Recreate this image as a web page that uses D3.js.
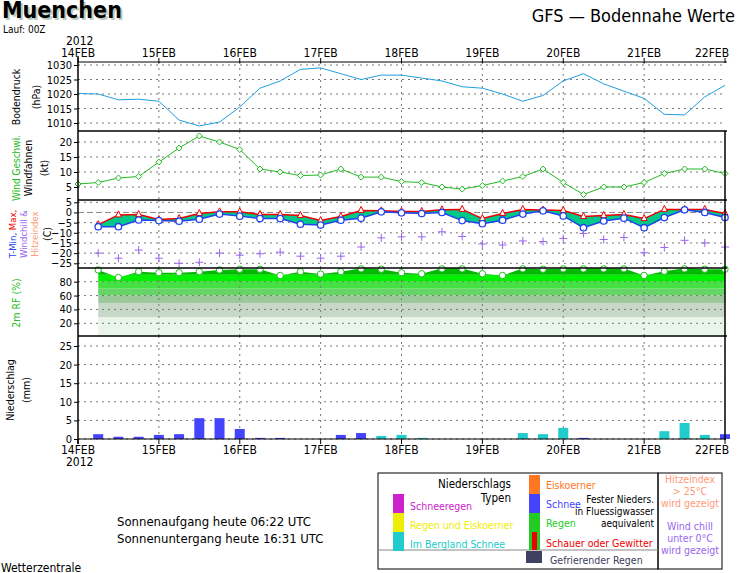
<!DOCTYPE html>
<html><head><meta charset="utf-8">
<script src="https://cdn.jsdelivr.net/npm/d3@7"></script>
<style>body{margin:0;background:#fff}text{font-family:"DejaVu Sans Condensed","DejaVu Sans",sans-serif}</style>
</head><body><svg id="c" width="740" height="573"></svg>
<script>
// 6-hourly steps, 14FEB 00Z .. 22FEB 00Z
var days = ["14FEB","15FEB","16FEB","17FEB","18FEB","19FEB","20FEB","21FEB","22FEB"];
var pressure = [1020.2,1020,1018,1018.2,1017.5,1011,1009,1010.3,1015.5,1022,1024.5,1028.5,1029,1027,1025,1026.5,1026.5,1025.5,1024.5,1022.5,1022,1020,1017.5,1019.5,1024.5,1027,1023.5,1021,1018.5,1013,1012.8,1019,1023];
var wind = [6,6.5,8,8.5,13.3,18,22,20,17.5,11,10,8.8,9,11,8.3,8.3,6.8,6.5,5,4.3,5.5,7,8.5,11,6.5,2.5,5,5,6.5,9.5,11,11,9.5];
// temperatures from 14FEB 06Z
var tmin = [-7,-7,-3.7,-4,-4.3,-3.3,-0.8,-1.8,-3,-3,-5.8,-6.2,-3.8,-2.8,0.3,-0.2,-0.5,0,-4,-5.5,-3.8,-0.8,0.8,-1.7,-7.5,-4.2,-2.8,-7.5,-2.5,1.3,0,-2.5];
var tmax = [-6,-1.2,-1,-3.5,-3,-0.5,0.3,0.3,-1,-1,-1.5,-4,-2,1,0.8,0.5,0.5,1.3,1.5,-3,-0.5,1.5,1.2,1,-2,-1.5,-1,-3,1.5,1.5,1.5,-0.5];
var chill = [-20,-22.5,-18.5,-22.5,-25,-24.5,-20,-21,-20.3,-19.5,-21.5,-22.5,-21.5,-17,-12.5,-12,-12,-9.5,-11.8,-15.5,-16,-14,-14.3,-12.8,-10.3,-13.3,-12.3,-19.8,-17.2,-13.7,-15,-17];
var rh = [97,86,94.5,93,93,94.5,97,98,98,89,94.5,91,94.5,100,98,93,91.5,100,99,91.5,89,99,98,99,99,99,99,89,95,100,98,98];
var precip = [1.3,0.6,0.6,1.1,1.3,5.6,5.6,2.7,0.3,0.3,0,0,1.1,1.6,0.8,1.1,0.3,0,0,0,0,1.6,1.3,3,0.3,0,0,0,2.1,4.3,1.1,1.3];
var ptype = ["s","s","s","s","s","s","s","s","s","s","s","s","s","s","b","b","b","b","b","b","b","b","b","b","s","s","s","s","b","b","b","s"];

var svg = d3.select("#c");
var x0 = 78, x1 = 725;
var x = d3.scaleLinear().domain([0, 8]).range([x0, x1]);
var step = i => i / 4;          // index -> day
var stepT = i => (i + 1) / 4;   // temp arrays start at 06Z

// panels
var P = {
  p: {top: 62, bot: 131, y: d3.scaleLinear().domain([1010, 1030]).range([123, 65]), ticks: [1010,1015,1020,1025,1030]},
  w: {top: 131, bot: 200, y: d3.scaleLinear().domain([5, 20]).range([187, 142]), ticks: [5,10,15,20]},
  t: {top: 200, bot: 268, y: d3.scaleLinear().domain([-25, 5]).range([263.3, 202.3]), ticks: [-25,-20,-15,-10,-5,0,5]},
  h: {top: 268, bot: 336, y: d3.scaleLinear().domain([20, 80]).range([323.3, 281.7]), ticks: [20,40,60,80]},
  r: {top: 336, bot: 439, y: d3.scaleLinear().domain([0, 25]).range([439, 346]), ticks: [0,5,10,15,20,25]}
};

// RH bands (under the curve)
var bands = [[0,29,"#eaf5ea"],[29,49,"#c8d8c8"],[49,60,"#9cc89c"],[60,70,"#66d466"],[70,80,"#44e044"],[80,90,"#00f000"],[90,101,"#00bb00"]];
var rhArea = d3.area().x((d,i) => x(stepT(i))).y0(P.h.y(0)).y1(d => P.h.y(Math.min(d,99.5)));
svg.append("clipPath").attr("id","rhc").append("path").attr("d", rhArea(rh));
var bg = svg.append("g").attr("clip-path","url(#rhc)");
bands.forEach(b => bg.append("rect").attr("x", x0).attr("width", x1 - x0)
  .attr("y", P.h.y(b[1])).attr("height", P.h.y(b[0]) - P.h.y(b[1])).attr("fill", b[2]));

// grids
var dayTicks = d3.range(0, 9);
Object.values(P).forEach(p => {
  var g = svg.append("g");
  g.selectAll(".v").data(dayTicks.slice(1, 8)).enter().append("line")
    .attr("x1", d => x(d)).attr("x2", d => x(d)).attr("y1", p.top).attr("y2", p.bot)
    .attr("stroke", "#777").attr("stroke-dasharray", "2,4");
  g.selectAll(".h").data(p.ticks).enter().append("line")
    .attr("x1", x0).attr("x2", x1).attr("y1", d => p.y(d)).attr("y2", d => p.y(d))
    .attr("stroke", d => (p === P.t && d === 0) ? "#888" : "#777")
    .attr("stroke-dasharray", d => (p === P.t && d === 0) ? "6,3" : "2,4");
  var ax = d3.axisLeft(p.y).tickValues(p.ticks).tickFormat(d3.format("d")).tickSize(4).tickPadding(2);
  var a = svg.append("g").attr("transform", `translate(${x0},0)`).call(ax);
  a.select(".domain").remove();
  a.selectAll("text").attr("font-size", 11);
});

// pressure line
svg.append("path").attr("d", d3.line().x((d,i) => x(step(i))).y(d => P.p.y(d))(pressure))
  .attr("fill", "none").attr("stroke", "#1ea0e0").attr("stroke-width", 1);

// wind
svg.append("path").attr("d", d3.line().x((d,i) => x(step(i))).y(d => P.w.y(d))(wind))
  .attr("fill", "none").attr("stroke", "#22bb22");
svg.selectAll(".wd").data(wind).enter().append("path")
  .attr("d", (d,i) => { var cx = x(step(i)), cy = P.w.y(d); return `M${cx},${cy-3}L${cx+3},${cy}L${cx},${cy+3}L${cx-3},${cy}Z`; })
  .attr("fill", "#fff").attr("stroke", "#22bb22");

// temperature
var tA = d3.area().x((d,i) => x(stepT(i))).y0((d,i) => P.t.y(tmin[i])).y1(d => P.t.y(d));
svg.append("path").attr("d", tA(tmax)).attr("fill", "#00c888");
svg.append("path").attr("d", d3.line().x((d,i) => x(stepT(i))).y(d => P.t.y(d))(tmax)).attr("fill","none").attr("stroke","#ee0000").attr("stroke-width",1.5);
svg.append("path").attr("d", d3.line().x((d,i) => x(stepT(i))).y(d => P.t.y(d))(tmin)).attr("fill","none").attr("stroke","#2244ee").attr("stroke-width",1.5);
svg.selectAll(".tx").data(tmax).enter().append("path")
  .attr("d", (d,i) => { var cx = x(stepT(i)), cy = P.t.y(d); return `M${cx},${cy-4}L${cx+3},${cy+2}L${cx-3},${cy+2}Z`; })
  .attr("fill", "#fff").attr("stroke", "#ee0000");
svg.selectAll(".tn").data(tmin).enter().append("circle")
  .attr("cx", (d,i) => x(stepT(i))).attr("cy", d => P.t.y(d)).attr("r", 3.2)
  .attr("fill", "#fff").attr("stroke", "#2244ee").attr("stroke-width", 1.3);
svg.selectAll(".wc").data(chill).enter().append("path")
  .attr("d", (d,i) => { var cx = x(stepT(i)), cy = P.t.y(d); return `M${cx-4},${cy}H${cx+4}M${cx},${cy-4}V${cy+4}`; })
  .attr("stroke", "#9966ee").attr("stroke-width", 1);

// RH markers
svg.selectAll(".rh").data(rh).enter().append("circle")
  .attr("cx", (d,i) => x(stepT(i))).attr("cy", d => P.h.y(Math.min(d, 98.5))).attr("r", 3.2)
  .attr("fill", "#fff").attr("stroke", "#22bb22");

// precipitation bars
var pcol = {s: "#4444ff", b: "#22cccc"};
svg.selectAll(".pr").data(precip).enter().append("rect")
  .attr("x", (d,i) => x(stepT(i)) - 5).attr("width", 10)
  .attr("y", d => P.r.y(d)).attr("height", d => P.r.y(0) - P.r.y(d))
  .attr("fill", (d,i) => pcol[ptype[i]]);

// frames
[P.p, P.w, P.t, P.h, P.r].forEach(p => {
  svg.append("line").attr("x1", x0).attr("x2", x1 + 2).attr("y1", p.top).attr("y2", p.top).attr("stroke", "#000").attr("stroke-width", p === P.p ? 1 : 1.5);
});
svg.append("line").attr("x1", x0).attr("x2", x0).attr("y1", 56).attr("y2", 444).attr("stroke", "#000").attr("stroke-width", 1.5);
svg.append("line").attr("x1", x1).attr("x2", x1).attr("y1", 131).attr("y2", 440).attr("stroke", "#000").attr("stroke-width", 1.5);
svg.append("line").attr("x1", x0).attr("x2", x1).attr("y1", 439).attr("y2", 439).attr("stroke", "#000");

// day labels
function dayAxis(y, tickY1, tickY2) {
  dayTicks.forEach(d => {
    svg.append("line").attr("x1", x(d)).attr("x2", x(d)).attr("y1", tickY1).attr("y2", tickY2).attr("stroke", "#000");
    svg.append("text").attr("x", Math.min(x(d), 712)).attr("y", y).attr("text-anchor", "middle").attr("font-size", 12).text(days[d]);
  });
}
dayAxis(57, 58, 63);
dayAxis(454, 439, 444);
svg.append("text").attr("x", 66).attr("y", 45).attr("font-size", 12).text("2012");
svg.append("text").attr("x", 66).attr("y", 466).attr("font-size", 12).text("2012");

// y titles
function ytitle(cx, cy, lines, fs) {
  var t = svg.append("text").attr("transform", `translate(${cx},${cy}) rotate(-90)`).attr("text-anchor", "middle").attr("font-size", fs || 10.5);
  lines.forEach(l => t.append("tspan").attr("fill", l[1]).text(l[0]));
  return t;
}
ytitle(20, 97, [["Bodendruck", "#000"]]);
ytitle(40, 97, [["(hPa)", "#000"]]);
ytitle(20, 168, [["Wind Geschwi.", "#22bb22"]], 10);
ytitle(32, 168, [["Windfahnen", "#000"]]);
ytitle(48, 168, [["(kt)", "#000"]]);
ytitle(16, 234, [["T-Min, ", "#2244ee"], ["Max, ", "#ee0000"]], 9.5);
ytitle(27, 234, [["Windchill &", "#9966ee"]], 9.5);
ytitle(38, 234, [["Hitzeindex", "#ff9977"]], 9.5);
ytitle(51, 234, [["(C)", "#000"]]);
ytitle(20, 303, [["2m RF (%)", "#22bb22"]]);
ytitle(14, 390, [["Niederschlag", "#000"]]);
ytitle(30, 390, [["(mm)", "#000"]]);

// titles
svg.append("text").attr("x", 4).attr("y", 20).attr("font-size", 23).attr("font-weight", "bold")
  .attr("font-family", "DejaVu Serif").attr("fill", "#bbccbb").text("Muenchen");
svg.append("text").attr("x", 2).attr("y", 18).attr("font-size", 23).attr("font-weight", "bold")
  .attr("font-family", "DejaVu Serif").attr("fill", "#000").text("Muenchen");
svg.append("text").attr("x", 3).attr("y", 33).attr("font-size", 10).text("Lauf: 00Z");
svg.append("text").attr("x", 735).attr("y", 22).attr("text-anchor", "end").attr("font-size", 18).text("GFS — Bodennahe Werte");

// sun
svg.append("text").attr("x", 117).attr("y", 526).attr("font-size", 13).text("Sonnenaufgang heute 06:22 UTC");
svg.append("text").attr("x", 117).attr("y", 543).attr("font-size", 13).text("Sonnenuntergang heute 16:31 UTC");
svg.append("text").attr("x", 1).attr("y", 572).attr("font-size", 12).text("Wetterzentrale");

// legend
var L = svg.append("g").attr("transform", "translate(378,473)");
L.append("rect").attr("width", 280).attr("height", 96).attr("fill", "none").attr("stroke", "#000");
L.append("rect").attr("x", 280).attr("width", 64).attr("height", 96).attr("fill", "none").attr("stroke", "#000");
L.append("line").attr("x1", 0).attr("x2", 280).attr("y1", 77).attr("y2", 77).attr("stroke", "#888");
var lt = (xx, yy, s, c, fs, anc) => L.append("text").attr("x", xx).attr("y", yy).attr("font-size", fs || 10.5).attr("fill", c).attr("text-anchor", anc || "start").text(s);
lt(133, 15, "Niederschlags", "#000", 11.5, "end");
lt(133, 29, "Typen", "#000", 11.5, "end");
var leftItems = [["Schneeregen", "#cc22cc"], ["Regen und Eiskoerner", "#eeee00"], ["Im Bergland Schnee", "#22cccc"]];
leftItems.forEach((it, i) => {
  L.append("rect").attr("x", 15).attr("y", 21 + i * 19).attr("width", 11).attr("height", 19).attr("fill", it[1]);
  lt(32, 37 + i * 19, it[0], it[1]);
});
var midItems = [["Eiskoerner", "#ff7722"], ["Schnee", "#4444ff"], ["Regen", "#22cc22"]];
midItems.forEach((it, i) => {
  L.append("rect").attr("x", 151).attr("y", 2 + i * 19).attr("width", 11).attr("height", 19).attr("fill", it[1]);
  lt(168, 16 + i * 19, it[0], it[1]);
});
L.append("rect").attr("x", 151).attr("y", 59).attr("width", 11).attr("height", 18).attr("fill", "#22cc22");
L.append("rect").attr("x", 154).attr("y", 59).attr("width", 5).attr("height", 18).attr("fill", "#ee0000");
lt(168, 74, "Schauer oder Gewitter", "#ee0000");
L.append("rect").attr("x", 148).attr("y", 78).attr("width", 16).attr("height", 12).attr("fill", "#404060");
lt(172, 91, "Gefrierender Regen", "#404060");
lt(276, 30, "Fester Nieders.", "#000", 10, "end");
lt(276, 42, "in Fluessigwasser", "#000", 10, "end");
lt(276, 54, "aequivalent", "#000", 10, "end");
[["Hitzeindex", 10], ["> 25°C", 22], ["wird gezeigt", 34]].forEach(s => lt(312, s[1], s[0], "#ff9977", 10.5, "middle"));
[["Wind chill", 57], ["unter 0°C", 69], ["wird gezeigt", 81]].forEach(s => lt(312, s[1], s[0], "#9966ee", 10.5, "middle"));
</script></body></html>
